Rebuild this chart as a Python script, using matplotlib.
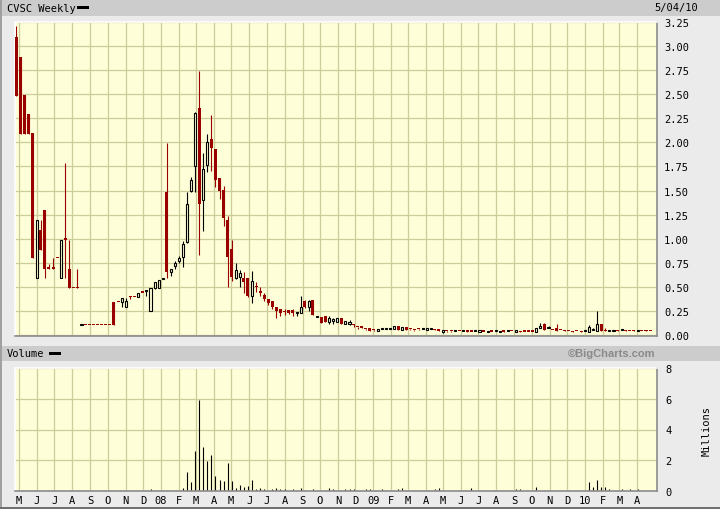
import matplotlib
matplotlib.use("Agg")
import matplotlib.pyplot as plt
import matplotlib.dates as mdates
from matplotlib.patches import Rectangle
import numpy as np
import pandas as pd

# ---------------- data (weekly OHLC) ----------------
open_ = [3.09, 2.89, 2.49, 2.29, 2.10, 0.59, 1.09, 1.30, 0.69, 0.69,
         0.80, 0.59, 0.99, 0.69, 0.49, 0.49, 0.10, 0.10, 0.10, 0.10,
         0.10, 0.10, 0.10, 0.10, 0.34, 0.34, 0.34, 0.29, 0.39, 0.39,
         0.39, 0.44, 0.46, 0.25, 0.49, 0.485, 0.58, 1.49, 0.65, 0.72,
         0.77, 0.81, 0.97, 1.50, 1.75, 2.36, 1.405, 1.765, 2.035, 1.93,
         1.63, 1.51, 1.19, 0.89, 0.59, 0.605, 0.59, 0.59, 0.40, 0.50,
         0.46, 0.42, 0.37, 0.35, 0.29, 0.27, 0.24, 0.26, 0.26, 0.225,
         0.225, 0.35, 0.29, 0.36, 0.19, 0.19, 0.20, 0.14, 0.15, 0.14,
         0.18, 0.115, 0.115, 0.11, 0.08, 0.09, 0.06, 0.075, 0.05, 0.04,
         0.065, 0.06, 0.06, 0.06, 0.09, 0.05, 0.08, 0.06, 0.055, 0.06,
         0.065, 0.05, 0.065, 0.065, 0.06, 0.035, 0.045, 0.045, 0.045, 0.045,
         0.045, 0.045, 0.035, 0.04, 0.035, 0.035, 0.03, 0.035, 0.04, 0.03,
         0.035, 0.04, 0.04, 0.03, 0.045, 0.035, 0.035, 0.035, 0.03, 0.07,
         0.115, 0.07, 0.05, 0.07, 0.05, 0.04, 0.04, 0.03, 0.04, 0.03,
         0.04, 0.03, 0.05, 0.04, 0.11, 0.04, 0.04, 0.04, 0.04, 0.05,
         0.055, 0.04, 0.04, 0.04, 0.04, 0.045, 0.04]
high = [3.21, 2.89, 2.49, 2.29, 2.10, 1.19, 1.19, 1.30, 0.74, 0.80,
        0.80, 0.99, 1.79, 0.99, 0.49, 0.69, 0.11, 0.10, 0.10, 0.10,
        0.10, 0.10, 0.10, 0.10, 0.34, 0.34, 0.38, 0.38, 0.41, 0.39,
        0.44, 0.44, 0.46, 0.49, 0.55, 0.57, 0.58, 1.99, 0.69, 0.765,
        0.82, 0.98, 1.48, 1.64, 2.32, 2.74, 1.89, 2.09, 2.28, 1.93,
        1.63, 1.55, 1.24, 0.99, 0.75, 0.67, 0.65, 0.59, 0.66, 0.55,
        0.50, 0.44, 0.37, 0.35, 0.29, 0.27, 0.27, 0.26, 0.27, 0.24,
        0.40, 0.36, 0.36, 0.36, 0.19, 0.19, 0.20, 0.20, 0.18, 0.18,
        0.18, 0.15, 0.16, 0.11, 0.08, 0.09, 0.06, 0.075, 0.05, 0.065,
        0.065, 0.06, 0.06, 0.09, 0.09, 0.08, 0.08, 0.06, 0.055, 0.06,
        0.065, 0.075, 0.065, 0.065, 0.06, 0.035, 0.045, 0.045, 0.045, 0.045,
        0.045, 0.045, 0.035, 0.04, 0.035, 0.035, 0.03, 0.035, 0.04, 0.03,
        0.045, 0.04, 0.04, 0.03, 0.045, 0.035, 0.035, 0.035, 0.03, 0.125,
        0.125, 0.09, 0.05, 0.115, 0.05, 0.05, 0.04, 0.04, 0.04, 0.04,
        0.04, 0.10, 0.07, 0.25, 0.11, 0.07, 0.04, 0.04, 0.05, 0.05,
        0.055, 0.04, 0.05, 0.04, 0.04, 0.055, 0.04]
low = [2.485, 2.09, 2.09, 2.09, 0.80, 0.59, 0.885, 0.59, 0.69, 0.69,
       0.80, 0.59, 0.59, 0.49, 0.49, 0.49, 0.10, 0.10, 0.10, 0.10,
       0.10, 0.10, 0.10, 0.10, 0.10, 0.34, 0.29, 0.29, 0.37, 0.39,
       0.39, 0.44, 0.40, 0.25, 0.48, 0.485, 0.58, 0.59, 0.615, 0.69,
       0.75, 0.71, 0.96, 1.48, 1.49, 0.83, 1.08, 1.69, 1.70, 1.54,
       1.41, 1.135, 0.50, 0.56, 0.58, 0.495, 0.44, 0.39, 0.33, 0.45,
       0.40, 0.35, 0.31, 0.27, 0.18, 0.20, 0.21, 0.22, 0.20, 0.20,
       0.225, 0.28, 0.25, 0.21, 0.19, 0.12, 0.14, 0.11, 0.11, 0.13,
       0.115, 0.115, 0.10, 0.08, 0.06, 0.07, 0.05, 0.04, 0.04, 0.04,
       0.06, 0.06, 0.06, 0.06, 0.05, 0.05, 0.05, 0.05, 0.045, 0.05,
       0.065, 0.05, 0.065, 0.05, 0.04, 0.02, 0.035, 0.035, 0.045, 0.045,
       0.045, 0.035, 0.035, 0.04, 0.035, 0.035, 0.03, 0.035, 0.04, 0.03,
       0.035, 0.04, 0.04, 0.03, 0.03, 0.035, 0.035, 0.035, 0.03, 0.07,
       0.055, 0.07, 0.05, 0.04, 0.05, 0.04, 0.04, 0.03, 0.04, 0.03,
       0.04, 0.03, 0.05, 0.04, 0.04, 0.04, 0.04, 0.04, 0.04, 0.05,
       0.04, 0.04, 0.04, 0.04, 0.04, 0.045, 0.04]
close = [2.485, 2.09, 2.09, 2.09, 0.80, 1.19, 0.885, 0.69, 0.69, 0.69,
         0.80, 0.99, 0.99, 0.49, 0.49, 0.49, 0.11, 0.10, 0.10, 0.10,
         0.10, 0.10, 0.10, 0.10, 0.10, 0.34, 0.38, 0.35, 0.39, 0.39,
         0.44, 0.44, 0.465, 0.49, 0.55, 0.57, 0.585, 0.65, 0.69, 0.75,
         0.80, 0.95, 1.36, 1.61, 2.31, 1.36, 1.72, 2.00, 1.94, 1.61,
         1.50, 1.22, 0.81, 0.60, 0.675, 0.64, 0.55, 0.41, 0.56, 0.50,
         0.44, 0.37, 0.33, 0.29, 0.25, 0.23, 0.24, 0.225, 0.225, 0.23,
         0.29, 0.29, 0.35, 0.21, 0.195, 0.12, 0.14, 0.18, 0.155, 0.18,
         0.115, 0.15, 0.14, 0.10, 0.08, 0.07, 0.06, 0.04, 0.05, 0.065,
         0.07, 0.065, 0.065, 0.09, 0.05, 0.08, 0.05, 0.06, 0.055, 0.06,
         0.07, 0.075, 0.07, 0.05, 0.04, 0.04, 0.045, 0.045, 0.05, 0.045,
         0.05, 0.035, 0.035, 0.045, 0.045, 0.035, 0.045, 0.035, 0.045, 0.045,
         0.035, 0.045, 0.04, 0.05, 0.03, 0.035, 0.035, 0.035, 0.07, 0.09,
         0.055, 0.075, 0.05, 0.04, 0.05, 0.04, 0.04, 0.03, 0.04, 0.03,
         0.045, 0.08, 0.06, 0.11, 0.04, 0.04, 0.045, 0.045, 0.04, 0.055,
         0.04, 0.04, 0.04, 0.045, 0.04, 0.045, 0.04]
# weekly volume, millions
volume = [0] * len(close)
vol_points = {33: 0.11, 41: 0.17, 42: 1.2, 43: 0.55, 44: 2.6, 45: 5.9, 46: 2.87,
              47: 1.95, 48: 2.35, 49: 0.99, 50: 0.70, 51: 0.64, 52: 1.82,
              53: 0.64, 54: 0.18, 55: 0.37, 56: 0.24, 57: 0.31, 58: 0.70,
              59: 0.11, 60: 0.18, 61: 0.11, 63: 0.11, 64: 0.18, 65: 0.11,
              66: 0.11, 68: 0.11, 70: 0.18, 73: 0.11, 77: 0.18, 78: 0.11,
              81: 0.11, 82: 0.11, 83: 0.11, 86: 0.11, 87: 0.11, 90: 0.08,
              94: 0.11, 95: 0.18, 103: 0.11, 104: 0.18, 112: 0.18, 123: 0.11,
              124: 0.11, 128: 0.24, 141: 0.59, 142: 0.22, 143: 0.70,
              144: 0.26, 145: 0.22, 146: 0.11, 149: 0.11, 151: 0.11, 153: 0.11}
for k, v in vol_points.items():
    volume[k] = v

first_week = "2007-04-27"
month_labels = ["M", "J", "J", "A", "S", "O", "N", "D",
                "08", "F", "M", "A", "M", "J", "J", "A", "S", "O", "N", "D",
                "09", "F", "M", "A", "M", "J", "J", "A", "S", "O", "N", "D",
                "10", "F", "M", "A"]
price_ticks = [0.00, 0.25, 0.50, 0.75, 1.00, 1.25, 1.50, 1.75, 2.00, 2.25,
               2.50, 2.75, 3.00, 3.25]
vol_ticks = [0, 2, 4, 6, 8]

# ---------------- figure ----------------
W, H = 720, 510
BG = "#EBEBEB"
PANEL = "#FEFED8"
GRID = "#CDCD9C"
RED = "#990000"
MONO = "DejaVu Sans Mono"

fig = plt.figure(figsize=(W / 100, H / 100), dpi=100, facecolor=BG)


def fx(x):
    return x / W


def fy(y):
    return 1 - y / H


def axes_px(x0, y0, x1, y1):
    return fig.add_axes([fx(x0), fy(y1), fx(x1) - fx(x0), fy(y0) - fy(y1)])


def rect_px(x0, y0, x1, y1, color, z=0):
    fig.patches.append(Rectangle((fx(x0), fy(y1)), fx(x1) - fx(x0), fy(y0) - fy(y1),
                                 transform=fig.transFigure, facecolor=color,
                                 edgecolor="none", zorder=z))


# header bars and borders
rect_px(0, 0, 720, 16.5, "#CCCCCC")
rect_px(0, 0, 720, 1, "#9A9A9A")
rect_px(2, 347, 720, 362, "#CCCCCC")
rect_px(0, 0, 1.5, 510, "#A0A0A0")
rect_px(0, 507.5, 720, 510, "#707070")

price_ax = axes_px(15, 23, 657, 337)
vol_ax = axes_px(15, 369, 657, 492)

dates = pd.date_range(first_week, periods=len(close), freq="W-FRI")
xd = mdates.date2num(dates)
ref = mdates.date2num(pd.Timestamp("2009-01-01"))
scale = 0.5802  # px per day
xlim = (ref - (373.3 - 15) / scale, ref + (657 - 373.3) / scale)
months = pd.date_range("2007-05-01", periods=len(month_labels), freq="MS")
mx = mdates.date2num(months)

for ax in (price_ax, vol_ax):
    ax.set_facecolor(PANEL)
    ax.set_xlim(*xlim)
    ax.set_xticks(mx)
    ax.grid(True, color=GRID, linewidth=0.9, zorder=0)
    ax.set_axisbelow(True)
    ax.yaxis.tick_right()
    ax.tick_params(axis="both", length=0, labelsize=7.5, colors="black")
    ax.spines["top"].set_color("white")
    ax.spines["left"].set_color("white")
    ax.spines["bottom"].set_color("#8C8C8C")
    ax.spines["right"].set_color("#8C8C8C")
    for s in ax.spines.values():
        s.set_linewidth(1.2)

# ----- candles -----
o = np.array(open_)
h = np.array(high)
lo = np.array(low)
c = np.array(close)
up = c > o
wick_colors = np.where(up, "black", RED)
price_ax.vlines(xd, lo, h, colors=wick_colors, linewidth=0.8, zorder=2)
bottoms = np.minimum(o, c)
heights = np.maximum(np.abs(c - o), 0.012)
price_ax.bar(xd[~up], heights[~up], bottom=bottoms[~up], width=5.2,
             color=RED, edgecolor="none", linewidth=0, zorder=3)
price_ax.bar(xd[up], heights[up], bottom=bottoms[up], width=3.6,
             color=PANEL, edgecolor="black", linewidth=0.8, zorder=3)

price_ax.set_ylim(-1 / 96.3, 3.25)
price_ax.set_yticks(price_ticks)
price_ax.set_yticklabels([f"{t:.2f}" for t in price_ticks], family=MONO)
price_ax.tick_params(axis="y", pad=5)
price_ax.set_xticklabels([])

# ----- volume -----
v = np.array(volume)
mask = v > 0
vol_ax.vlines(xd[mask], 0, v[mask], colors="black", linewidth=0.8, zorder=2)
vol_ax.set_ylim(-0.02, 8.02)
vol_ax.set_yticks(vol_ticks)
vol_ax.set_yticklabels([str(t) for t in vol_ticks], family=MONO)
vol_ax.tick_params(axis="y", pad=6)
vol_ax.set_xticklabels(month_labels, family=MONO, fontsize=7.5)
vol_ax.tick_params(axis="x", pad=3)

# ----- texts -----
fig.text(fx(7), fy(8.5), "CVSC Weekly", family=MONO, fontsize=7.5, va="center", ha="left")
rect_px(77, 7, 89, 10, "black", z=5)
fig.text(fx(698), fy(8.5), "5/04/10", family=MONO, fontsize=7.5, va="center", ha="right")
fig.text(fx(7), fy(354.5), "Volume", family=MONO, fontsize=7.5, va="center", ha="left")
rect_px(49, 353, 61, 356, "black", z=5)
fig.text(fx(656), fy(354.5), "\u00a9BigCharts.com", family="Liberation Sans",
         fontweight="bold", fontsize=8, color="#8A8A8A", va="center", ha="right")
fig.text(fx(707), fy(431), "Millions", family=MONO, fontsize=7.5, rotation=90,
         va="center", ha="center")

fig.savefig("out.png", dpi=100, facecolor=BG)
